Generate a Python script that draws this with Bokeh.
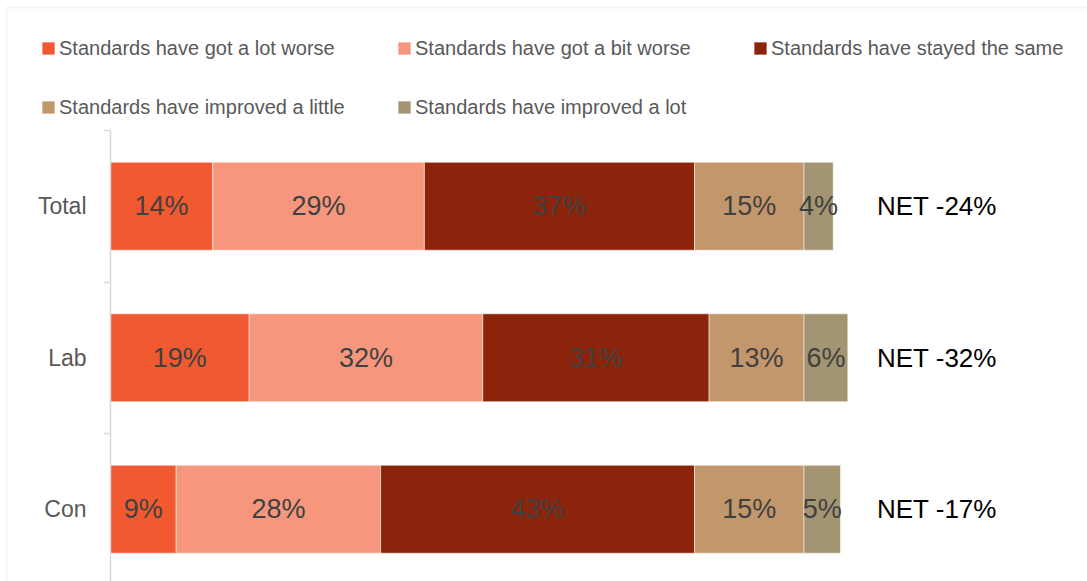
from bokeh.plotting import figure
from bokeh.models import ColumnDataSource, Range1d, FixedTicker, Legend, LegendItem, BoxAnnotation
from bokeh.core.properties import value
from bokeh.embed import file_html
from bokeh.resources import INLINE

# ---------------- data ----------------
categories = ["Total", "Lab", "Con"]
series_names = [
    "Standards have got a lot worse",
    "Standards have got a bit worse",
    "Standards have stayed the same",
    "Standards have improved a little",
    "Standards have improved a lot",
]
lot_worse = [14, 19, 9]
bit_worse = [29, 32, 28]
stayed_same = [37, 31, 43]
improved_little = [15, 13, 15]
improved_lot = [4, 6, 5]
net_values = [-24, -32, -17]

series = [lot_worse, bit_worse, stayed_same, improved_little, improved_lot]
colors = ["#F15A30", "#F6977D", "#8B240A", "#C3976C", "#A39572"]

# ---------------- layout constants ----------------
FONT = "Liberation Sans"
PX_PER_PCT = 7.3
W, H = 1087, 581
LEFT, TOP = 110, 130
n = len(categories)
y_pos = [n - i - 0.5 for i in range(n)]
y_step = 151.5
y_bottom = n - (H - TOP) / y_step
y_top = n + TOP / y_step

p = figure(
    width=W, height=H, output_backend="svg", toolbar_location=None,
    x_range=Range1d(-LEFT / PX_PER_PCT, (W - LEFT) / PX_PER_PCT),
    y_range=Range1d(y_bottom, y_top),
    x_axis_location=None,
    min_border_left=0, min_border_right=0, min_border_top=0, min_border_bottom=0,
)
p.outline_line_color = None
p.xgrid.visible = False
p.ygrid.visible = False
p.background_fill_color = "white"
p.border_fill_color = "white"

# y axis placed at x=0: labels at category centres, tick marks at boundaries
ax = p.yaxis[0]
ax.fixed_location = 0
ax.bounds = (y_bottom, n)
ax.ticker = FixedTicker(ticks=y_pos, minor_ticks=list(range(n + 1)))
ax.major_label_overrides = {y: c for y, c in zip(y_pos, categories)}
ax.major_tick_out = 0
ax.major_tick_in = 0
ax.minor_tick_out = 7
ax.minor_tick_in = 0
ax.minor_tick_line_color = "#d9d9d9"
ax.minor_tick_line_width = 1.5
ax.axis_line_color = "#d9d9d9"
ax.axis_line_width = 1.5
ax.major_label_standoff = 17
ax.major_label_text_font = FONT
ax.major_label_text_font_size = "23px"
ax.major_label_text_color = "#595959"

# stacked bars
left = [0.0] * n
items = []
lx, ly, lt = [], [], []
for name, vals, col in zip(series_names, series, colors):
    right = [l + v for l, v in zip(left, vals)]
    r = p.hbar(y=y_pos, left=left, right=right, height=0.58,
               fill_color=col, line_color="white", line_alpha=0.5, line_width=1)
    items.append(LegendItem(label=name, renderers=[r]))
    for l, v, y in zip(left, vals, y_pos):
        lx.append(l + v / 2)
        ly.append(y)
        lt.append(f"{v}%")
    left = right

lab_src = ColumnDataSource(dict(x=lx, y=ly, text=lt))
p.text(x="x", y="y", text="text", source=lab_src, text_align="center",
       text_baseline="middle", text_font=value(FONT), text_font_size="27px",
       text_color="#404040")

NET_X = 105.0
net_src = ColumnDataSource(dict(x=[NET_X] * n, y=y_pos, text=[f"NET {v}%" for v in net_values]))
p.text(x="x", y="y", text="text", source=net_src, text_align="left",
       text_baseline="middle", text_font=value(FONT), text_font_size="26px",
       text_color="black")

legend = Legend(
    items=items, ncols=3, orientation="horizontal", location=(40, 460),
    glyph_width=16, glyph_height=16, label_standoff=3, label_width=306, label_height=28,
    spacing=31, padding=0, margin=0, border_line_color=None, background_fill_alpha=0,
    label_text_font=FONT, label_text_font_size="20px", label_text_color="#595959",
)
p.add_layout(legend)

frame_box = BoxAnnotation(left=(6 - LEFT) / PX_PER_PCT, right=200,
                          top=n + (TOP - 7) / y_step, bottom=-5,
                          fill_color=None, line_color="#d9d9d9", line_width=2)
p.add_layout(frame_box)

open("out.html", "w").write(file_html(p, INLINE))
